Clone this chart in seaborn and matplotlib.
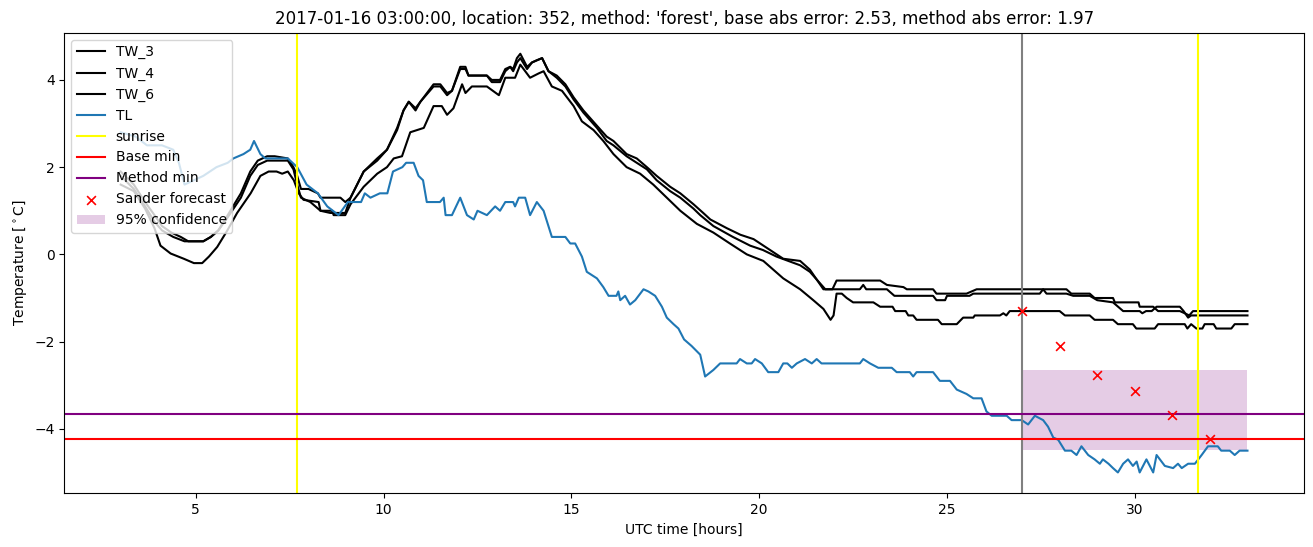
import matplotlib
matplotlib.use("Agg")
import matplotlib.pyplot as plt
import seaborn as sns
import numpy as np

title = "2017-01-16 03:00:00, location: 352, method: 'forest', base abs error: 2.53, method abs error: 1.97"

tl_t = [3.0, 3.4, 3.7, 4.1, 4.4, 4.55, 4.7, 4.95, 5.2, 5.55, 5.85, 6.0, 6.27, 6.45, 6.55, 6.72, 6.85, 7.45, 7.7,
        7.95, 8.25, 8.5, 8.8, 9.05, 9.4, 9.5, 9.65, 9.9, 10.1, 10.25, 10.5, 10.6, 10.8, 10.93, 11.05, 11.15, 11.5,
        11.6, 11.65, 11.82, 12.04, 12.22, 12.4, 12.5, 12.75, 12.97, 13.1, 13.24, 13.45, 13.5, 13.6, 13.77, 13.9,
        14.08, 14.26, 14.48, 14.84, 14.97, 15.1, 15.28, 15.41, 15.68, 15.85, 15.99, 16.2, 16.25, 16.3, 16.43,
        16.56, 16.7, 16.92, 17.05, 17.23, 17.41, 17.54, 17.72, 17.85, 18.0, 18.2, 18.43, 18.56, 18.78, 18.96,
        19.4, 19.49, 19.67, 19.8, 19.89, 20.07, 20.24, 20.51, 20.64, 20.75, 20.87, 21.0, 21.22, 21.4, 21.53,
        21.66, 22.68, 22.77, 22.95, 23.17, 23.53, 23.66, 24.01, 24.1, 24.19, 24.63, 24.81, 25.08, 25.26, 25.52,
        25.7, 25.92, 26.05, 26.19, 26.59, 26.72, 26.99, 27.16, 27.34, 27.56, 27.69, 27.83, 27.96, 28.14, 28.31,
        28.45, 28.58, 28.76, 28.93, 29.07, 29.15, 29.3, 29.42, 29.55, 29.69, 29.82, 29.95, 30.05, 30.13, 30.31,
        30.4, 30.49, 30.58, 30.8, 31.02, 31.15, 31.25, 31.42, 31.6, 31.78, 31.95, 32.21, 32.3, 32.53, 32.66,
        32.79, 33.0]
tl_v = [2.8, 2.7, 2.5, 2.5, 2.4, 2.1, 1.6, 1.7, 1.8, 2.0, 2.1, 2.2, 2.3, 2.4, 2.6, 2.3, 2.2, 2.2, 2.0,
        1.6, 1.4, 1.1, 0.9, 1.2, 1.2, 1.4, 1.3, 1.4, 1.4, 1.9, 2.0, 2.1, 2.1, 1.8, 1.7, 1.2, 1.2,
        1.3, 0.9, 0.9, 1.3, 0.9, 0.8, 1.0, 0.9, 1.1, 1.0, 1.2, 1.2, 1.1, 1.3, 1.3, 0.9,
        1.2, 1.0, 0.4, 0.4, 0.25, 0.25, -0.05, -0.4, -0.55, -0.75, -0.95, -0.95, -0.85, -1.05, -0.95,
        -1.15, -1.05, -0.8, -0.85, -0.95, -1.2, -1.45, -1.6, -1.7, -1.95, -2.1, -2.3, -2.8, -2.65, -2.5,
        -2.5, -2.4, -2.5, -2.5, -2.4, -2.5, -2.7, -2.7, -2.5, -2.5, -2.6, -2.5, -2.4, -2.5, -2.4,
        -2.5, -2.5, -2.4, -2.5, -2.6, -2.6, -2.7, -2.7, -2.8, -2.7, -2.7, -2.9, -2.9, -3.1, -3.2,
        -3.3, -3.3, -3.6, -3.7, -3.7, -3.8, -3.8, -3.9, -3.7, -3.8, -3.95, -4.2, -4.25, -4.5, -4.5,
        -4.6, -4.4, -4.6, -4.7, -4.8, -4.7, -4.8, -4.9, -5.0, -4.8, -4.7, -4.85, -4.75, -5.0, -4.7,
        -4.85, -5.0, -4.6, -4.85, -4.9, -4.8, -4.9, -4.8, -4.8, -4.6, -4.4, -4.4, -4.5, -4.5, -4.6,
        -4.5, -4.5]

tw3_t = [3.0, 3.35, 3.65, 3.9, 4.1, 4.35, 4.6, 4.8, 5.2, 5.4, 5.6, 5.85, 6.2, 6.45, 6.65, 6.9, 7.1, 7.45, 7.6,
         7.7, 7.8, 8.0, 8.25, 8.32, 8.85, 8.98, 9.12, 9.47, 9.83, 10.09, 10.36, 10.53, 10.67, 10.85, 10.98,
         11.33, 11.51, 11.69, 11.82, 12.04, 12.18, 12.26, 12.75, 12.88, 13.1, 13.24, 13.37, 13.45, 13.55, 13.64,
         13.82, 13.95, 14.08, 14.22, 14.39, 14.61, 14.84, 15.06, 15.32, 15.68, 15.94, 16.12, 16.47, 16.74,
         17.01, 17.27, 17.63, 17.9, 18.25, 18.51, 18.7, 19.14, 19.5, 19.85, 20.29, 20.64, 21.09, 21.35, 21.71,
         21.95, 22.06, 23.22, 23.4, 23.84, 23.93, 24.63, 24.72, 25.52, 25.79, 28.18, 28.31, 28.8, 28.93, 29.42,
         29.47, 30.1, 30.13, 30.49, 30.62, 31.2, 31.33, 31.45, 31.55, 33.0]
tw3_v = [1.9, 1.6, 1.2, 0.9, 0.65, 0.5, 0.4, 0.3, 0.3, 0.4, 0.55, 0.9, 1.4, 1.9, 2.15, 2.25, 2.25, 2.2, 2.0,
         1.8, 1.5, 1.5, 1.4, 1.3, 1.3, 1.2, 1.3, 1.9, 2.2, 2.4, 2.9, 3.3, 3.5, 3.35, 3.5,
         3.9, 3.9, 3.7, 3.75, 4.3, 4.3, 4.1, 4.1, 4.0, 4.0, 4.25, 4.3, 4.25, 4.5, 4.6,
         4.3, 4.4, 4.45, 4.5, 4.2, 4.1, 3.9, 3.6, 3.3, 2.95, 2.7, 2.6, 2.3, 2.2,
         2.0, 1.8, 1.55, 1.4, 1.15, 0.95, 0.8, 0.6, 0.45, 0.35, 0.1, -0.1, -0.15, -0.35, -0.8,
         -0.8, -0.6, -0.6, -0.7, -0.75, -0.8, -0.8, -0.9, -0.9, -0.8, -0.8, -0.9, -0.9, -1.0, -1.0,
         -1.1, -1.1, -1.2, -1.2, -1.3, -1.3, -1.35, -1.4, -1.3, -1.3]

tw4_t = [3.0, 3.35, 3.65, 3.9, 4.1, 4.4, 4.7, 5.2, 5.4, 5.6, 5.85, 6.2, 6.45, 6.65, 6.9, 7.45, 7.6, 7.7, 7.8,
         8.05, 8.32, 8.58, 8.98, 9.12, 9.47, 9.83, 10.09, 10.36, 10.53, 10.67, 10.85, 10.98, 11.33, 11.51,
         11.69, 11.82, 12.04, 12.18, 12.26, 12.75, 12.88, 13.1, 13.24, 13.37, 13.45, 13.55, 13.64, 13.82,
         13.95, 14.08, 14.22, 14.39, 14.61, 14.84, 15.06, 15.32, 15.68, 15.94, 16.12, 16.47, 16.74, 17.01,
         17.27, 17.63, 17.9, 18.25, 18.43, 18.78, 19.3, 19.76, 20.1, 20.46, 21.09, 21.35, 21.76, 22.68, 22.77,
         22.85, 23.4, 23.6, 24.63, 24.72, 24.95, 25.0, 25.6, 25.7, 27.47, 27.56, 27.65, 28.18, 28.36, 28.8,
         29.0, 29.42, 29.69, 30.13, 30.2, 30.3, 30.45, 30.58, 31.2, 31.3, 31.42, 31.5, 33.0]
tw4_v = [1.8, 1.5, 1.1, 0.75, 0.55, 0.4, 0.3, 0.3, 0.4, 0.55, 0.85, 1.3, 1.8, 2.05, 2.15, 2.15, 1.95, 1.6, 1.3,
         1.2, 1.0, 0.95, 0.95, 1.3, 1.9, 2.15, 2.4, 2.85, 3.3, 3.5, 3.3, 3.5, 3.85, 3.85,
         3.65, 3.75, 4.25, 4.25, 4.1, 4.1, 3.95, 3.95, 4.2, 4.3, 4.2, 4.4, 4.5, 4.25,
         4.4, 4.45, 4.5, 4.2, 4.05, 3.85, 3.55, 3.25, 2.9, 2.6, 2.5, 2.25, 2.1, 1.95,
         1.7, 1.45, 1.3, 1.05, 0.9, 0.65, 0.4, 0.2, 0.1, -0.05, -0.25, -0.4, -0.8, -0.8, -0.7,
         -0.8, -0.8, -0.95, -0.95, -1.05, -1.05, -0.95, -0.95, -0.9, -0.9, -0.8, -0.9, -0.9, -0.95, -0.95,
         -1.05, -1.1, -1.3, -1.3, -1.35, -1.3, -1.3, -1.2, -1.2, -1.3, -1.45, -1.4, -1.4]

tw6_t = [3.0, 3.35, 3.65, 3.9, 4.06, 4.33, 4.68, 4.95, 5.17, 5.35, 5.57, 5.84, 6.1, 6.46, 6.72, 6.94, 7.15, 7.3,
         7.45, 7.61, 7.74, 7.87, 8.27, 8.32, 8.63, 8.67, 8.98, 9.12, 9.47, 9.83, 10.09, 10.27, 10.49, 10.71,
         10.89, 11.07, 11.2, 11.33, 11.55, 11.69, 11.86, 12.09, 12.18, 12.35, 12.75, 13.07, 13.24, 13.5, 13.64,
         13.9, 14.13, 14.26, 14.48, 14.75, 15.06, 15.28, 15.59, 15.85, 16.12, 16.47, 16.83, 17.18, 17.54, 17.9,
         18.34, 18.78, 19.22, 19.67, 20.11, 20.64, 21.09, 21.44, 21.71, 21.9, 21.98, 22.06, 22.2, 22.33, 22.5,
         23.04, 23.22, 23.55, 23.62, 23.9, 23.97, 24.1, 24.19, 24.76, 24.86, 25.26, 25.43, 25.7, 25.74, 26.41,
         26.5, 26.58, 26.67, 28.0, 28.14, 28.8, 28.93, 29.42, 29.55, 29.95, 30.04, 30.53, 30.62, 31.33, 31.4,
         31.5, 31.64, 31.8, 31.86, 32.1, 32.17, 32.57, 32.66, 33.0]
tw6_v = [1.6, 1.45, 1.05, 0.6, 0.2, 0.02, -0.1, -0.2, -0.2, -0.05, 0.17, 0.55, 0.95, 1.4, 1.8, 1.9, 1.9, 1.85,
         1.9, 1.7, 1.4, 1.25, 1.2, 1.0, 1.0, 0.9, 0.9, 1.15, 1.55, 1.85, 2.0, 2.2, 2.25, 2.8,
         2.85, 2.9, 3.15, 3.4, 3.4, 3.2, 3.35, 3.9, 3.7, 3.85, 3.85, 3.65, 4.05, 4.05, 4.35,
         4.05, 4.15, 4.2, 3.85, 3.75, 3.4, 3.05, 2.85, 2.6, 2.3, 2.0, 1.85, 1.6, 1.3, 1.0,
         0.7, 0.5, 0.25, 0.0, -0.15, -0.55, -0.8, -1.05, -1.25, -1.5, -1.4, -0.9, -0.9, -1.0, -1.1,
         -1.1, -1.2, -1.2, -1.3, -1.3, -1.4, -1.4, -1.5, -1.5, -1.6, -1.6, -1.45, -1.45, -1.4, -1.4,
         -1.35, -1.4, -1.3, -1.3, -1.4, -1.4, -1.5, -1.5, -1.6, -1.6, -1.7, -1.7, -1.6, -1.6, -1.7,
         -1.6, -1.7, -1.7, -1.6, -1.6, -1.7, -1.7, -1.6, -1.6]

sunrise_hours = [7.7, 31.67]
forecast_start = 27.0
base_min = -4.23
method_min = -3.67
sander_t = [27, 28, 29, 30, 31, 32]
sander_v = [-1.30, -2.09, -2.77, -3.14, -3.68, -4.23]
conf_t = [27.0, 33.0]
conf_low = -4.49
conf_high = -2.65

fig = plt.figure(figsize=(13.13, 5.47), dpi=100)
ax = fig.add_axes([0.049, 0.098, 0.944, 0.842])

for tt, vv, name in [(tw3_t, tw3_v, "TW_3"), (tw4_t, tw4_v, "TW_4"), (tw6_t, tw6_v, "TW_6")]:
    sns.lineplot(x=tt, y=vv, color="black", label=name, ax=ax, estimator=None, linewidth=1.5)
sns.lineplot(x=tl_t, y=tl_v, color="tab:blue", label="TL", ax=ax, estimator=None, linewidth=1.5)

ax.axvline(sunrise_hours[0], color="yellow", label="sunrise")
ax.axvline(sunrise_hours[1], color="yellow")
ax.axvline(forecast_start, color="gray")
ax.axhline(base_min, color="red", label="Base min")
ax.axhline(method_min, color="purple", label="Method min")
sns.scatterplot(x=sander_t, y=sander_v, marker="x", color="red", s=40, linewidth=1.2,
                label="Sander forecast", ax=ax, zorder=5)
ax.fill_between(conf_t, [conf_low] * len(conf_t), [conf_high] * len(conf_t), color="purple",
                alpha=0.2, linewidth=0, label="95% confidence")

ax.set_title(title)
ax.set_xlabel("UTC time [hours]")
ax.set_ylabel(r"Temperature [$^\circ$C]")
ax.legend(loc="upper left")

fig.savefig("out.png", dpi=100)
